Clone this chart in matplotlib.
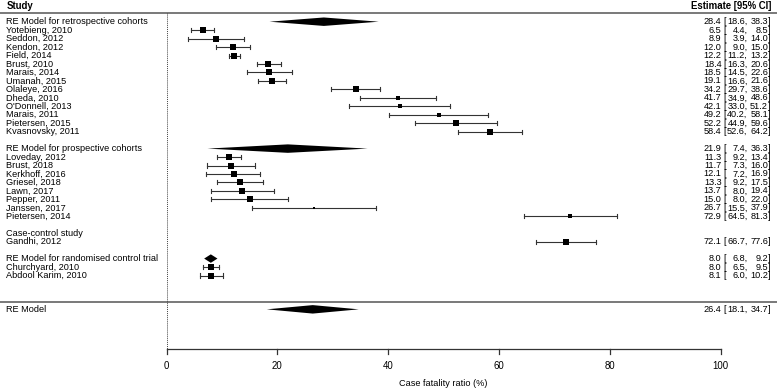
import numpy as np
import matplotlib.pyplot as plt
from matplotlib.patches import Polygon

plt.rcParams['font.family'] = ['Liberation Sans', 'DejaVu Sans']

# %% data
retro_labels = ["Yotebieng, 2010", "Seddon, 2012", "Kendon, 2012", "Field, 2014",
                "Brust, 2010", "Marais, 2014", "Umanah, 2015", "Olaleye, 2016",
                "Dheda, 2010", "O'Donnell, 2013", "Marais, 2011", "Pietersen, 2015",
                "Kvasnovsky, 2011"]
retro_est = [6.5, 8.9, 12.0, 12.2, 18.4, 18.5, 19.1, 34.2, 41.7, 42.1, 49.2, 52.2, 58.4]
retro_lo = [4.4, 3.9, 9.0, 11.2, 16.3, 14.5, 16.6, 29.7, 34.9, 33.0, 40.2, 44.9, 52.6]
retro_hi = [8.5, 14.0, 15.0, 13.2, 20.6, 22.6, 21.6, 38.6, 48.6, 51.2, 58.1, 59.6, 64.2]
retro_wt = [8.0, 5.6, 8.0, 8.2, 8.0, 7.8, 8.0, 7.6, 4.5, 3.6, 2.7, 5.6, 7.6]
retro_re = (28.4, 18.6, 38.3)

prosp_labels = ["Loveday, 2012", "Brust, 2018", "Kerkhoff, 2016", "Griesel, 2018",
                "Lawn, 2017", "Pepper, 2011", "Janssen, 2017", "Pietersen, 2014"]
prosp_est = [11.3, 11.7, 12.1, 13.3, 13.7, 15.0, 26.7, 72.9]
prosp_lo = [9.2, 7.3, 7.2, 9.2, 8.0, 8.0, 15.5, 64.5]
prosp_hi = [13.4, 16.0, 16.9, 17.5, 19.4, 22.0, 37.9, 81.3]
prosp_wt = [8.0, 6.8, 6.8, 6.6, 6.6, 5.6, 0.5, 3.6]
prosp_re = (21.9, 7.4, 36.3)

cc_labels = ["Gandhi, 2012"]
cc_est = [72.1]
cc_lo = [66.7]
cc_hi = [77.6]
cc_wt = [8.0]

rct_labels = ["Churchyard, 2010", "Abdool Karim, 2010"]
rct_est = [8.0, 8.1]
rct_lo = [6.5, 6.0]
rct_hi = [9.5, 10.2]
rct_wt = [8.0, 8.0]
rct_re = (8.0, 6.8, 9.2)

overall_re = (26.4, 18.1, 34.7)

x_ticks = [0, 20, 40, 60, 80, 100]

# %% layout helpers
W, H = 777, 390
PX_PER_UNIT = 5.54
X0_PX = 166.5
ROW_PX = 8.46
ROW0_PX = 21.7


def px2x(px):
    return (px - X0_PX) / PX_PER_UNIT


def py2r(py):
    return (py - ROW0_PX) / ROW_PX


fig = plt.figure(figsize=(W / 100, H / 100), dpi=100)
ax = fig.add_axes([0, 0, 1, 1])
ax.set_xlim(px2x(0), px2x(W))
ax.set_ylim(py2r(H), py2r(0))
ax.axis('off')

FS = 6.6
max_wt = max(retro_wt + prosp_wt + cc_wt + rct_wt)


def est_text(r, est, lo, hi):
    ax.text(px2x(721.5), r, f"{est:.1f}", ha='right', va='center', fontsize=FS)
    ax.text(px2x(723.0), r, "[", ha='left', va='center', fontsize=FS)
    ax.text(px2x(747.5), r, f"{lo:.1f},", ha='right', va='center', fontsize=FS)
    ax.text(px2x(768.0), r, f"{hi:.1f}", ha='right', va='center', fontsize=FS)
    ax.text(px2x(768.0), r, "]", ha='left', va='center', fontsize=FS)


def study_rows(start, labels, est, lo, hi, wt):
    rows = np.arange(start, start + len(labels))
    for r, lab, e, l, h, w in zip(rows, labels, est, lo, hi, wt):
        ax.text(px2x(6), r, lab, ha='left', va='center', fontsize=FS)
        ax.plot([l, h], [r, r], color='#333333', lw=0.8)
        ax.plot([l, l], [r - 0.24, r + 0.24], color='#333333', lw=0.8)
        ax.plot([h, h], [r - 0.24, r + 0.24], color='#333333', lw=0.8)
        size_px = 6.3 * np.sqrt(w / max_wt)
        ax.scatter([e], [r], marker='s', s=(size_px * 0.72) ** 2, color='black',
                   linewidths=0, zorder=3)
        est_text(r, e, l, h)


def diamond(r, label, re):
    e, l, h = re
    ax.text(px2x(6), r, label, ha='left', va='center', fontsize=FS)
    ax.add_patch(Polygon([(l, r), (e, r - 0.5), (h, r), (e, r + 0.5)],
                         closed=True, color='black', lw=0))
    est_text(r, e, l, h)


# retrospective
diamond(0, "RE Model for retrospective cohorts", retro_re)
study_rows(1, retro_labels, retro_est, retro_lo, retro_hi, retro_wt)
# prospective
diamond(15, "RE Model for prospective cohorts", prosp_re)
study_rows(16, prosp_labels, prosp_est, prosp_lo, prosp_hi, prosp_wt)
# case-control
ax.text(px2x(6), 25, "Case-control study", ha='left', va='center', fontsize=FS)
study_rows(26, cc_labels, cc_est, cc_lo, cc_hi, cc_wt)
# RCT
diamond(28, "RE Model for randomised control trial", rct_re)
study_rows(29, rct_labels, rct_est, rct_lo, rct_hi, rct_wt)
# overall
diamond(34, "RE Model", overall_re)

# header + lines
ax.text(px2x(7), py2r(5.5), "Study", ha='left', va='center', fontsize=FS + 0.3,
        fontweight='bold')
ax.text(px2x(771), py2r(5.5), "Estimate [95% CI]", ha='right', va='center',
        fontsize=FS + 0.3, fontweight='bold')
ax.plot([px2x(0), px2x(W)], [py2r(12.7)] * 2, color='#555555', lw=1.1)
ax.plot([px2x(0), px2x(W)], [py2r(301.7)] * 2, color='#555555', lw=1.1)
axis_r = py2r(349.3)
ax.plot([0, 0], [py2r(12.7), axis_r], color='#444444', lw=0.7, ls=(0, (1, 1)))

# x axis
ax.plot([x_ticks[0], x_ticks[-1]], [axis_r, axis_r], color='#333333', lw=0.9)
for t in x_ticks:
    ax.plot([t, t], [axis_r, axis_r + 0.6], color='#333333', lw=0.9)
    ax.text(t, py2r(366), str(t), ha='center', va='center', fontsize=FS + 0.3)
ax.text(50, py2r(383.5), "Case fatality ratio (%)", ha='center', va='center',
        fontsize=FS)

fig.savefig("out.png", dpi=100)
